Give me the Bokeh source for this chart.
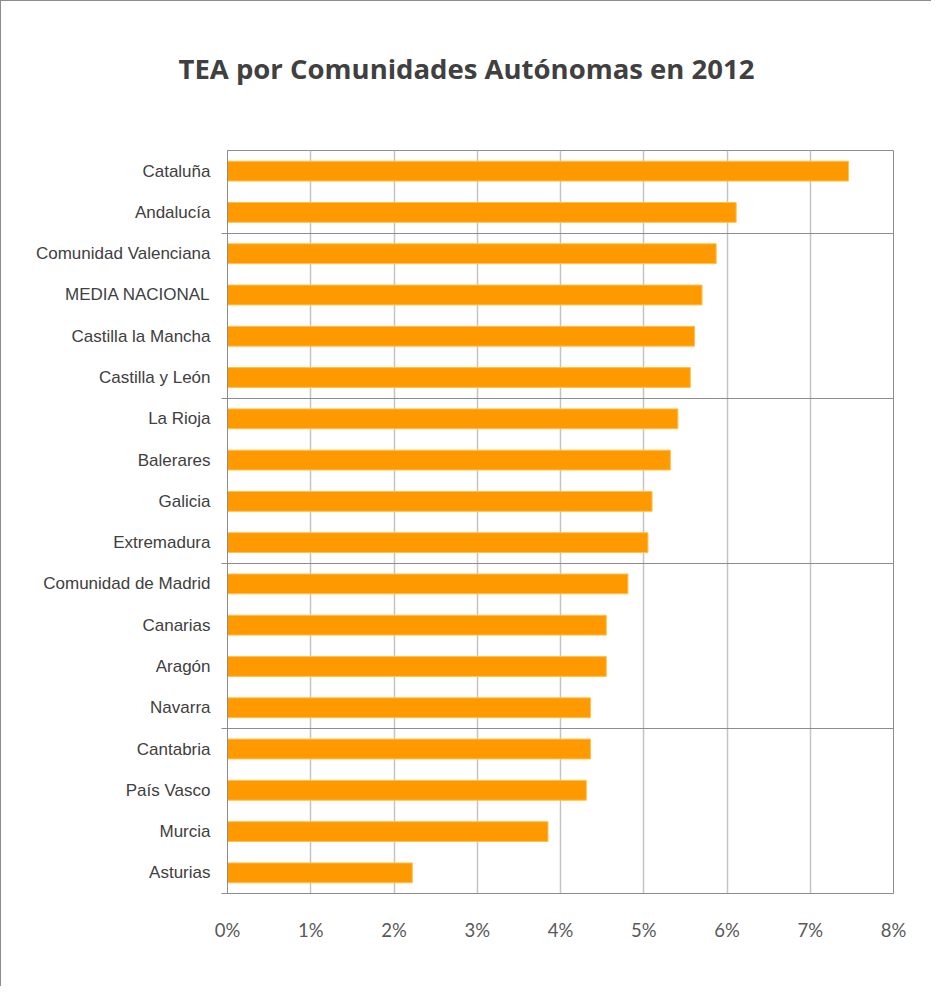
from bokeh.plotting import figure
from bokeh.models import FixedTicker, Range1d, ColumnDataSource, Title
from bokeh.embed import file_html
from bokeh.resources import INLINE

title_text = "TEA por Comunidades Autónomas en 2012"
regions = ["Cataluña", "Andalucía", "Comunidad Valenciana", "MEDIA NACIONAL",
           "Castilla la Mancha", "Castilla y León", "La Rioja", "Balerares",
           "Galicia", "Extremadura", "Comunidad de Madrid", "Canarias", "Aragón",
           "Navarra", "Cantabria", "País Vasco", "Murcia", "Asturias"]
values = [7.46, 6.11, 5.87, 5.70, 5.61, 5.56, 5.41, 5.32, 5.10, 5.05,
          4.81, 4.55, 4.55, 4.36, 4.36, 4.31, 3.85, 2.22]
x_ticks = [0, 1, 2, 3, 4, 5, 6, 7, 8]
x_tick_labels = ["0%", "1%", "2%", "3%", "4%", "5%", "6%", "7%", "8%"]
group_size = 4

n = len(regions)
ypos = [n - 1 - i for i in range(n)]
boundaries = [k * group_size - 0.5 for k in range(1, n // group_size + 1)]
tick_bounds = [-0.5] + boundaries

src = ColumnDataSource(dict(y=ypos, v=values, name=regions))

p = figure(width=931, height=986, x_range=Range1d(x_ticks[0], x_ticks[-1]),
           y_range=Range1d(-0.5, n - 0.5), output_backend="svg",
           toolbar_location=None, min_border_left=226, min_border_right=39,
           min_border_top=149, min_border_bottom=94,
           styles={"border-left": "1px solid #8c8c8c", "border-top": "1px solid #8c8c8c"})

p.hbar(y="y", right="v", left=0, height=0.48, source=src,
       fill_color="#FF9900", line_color="#FFC04D", line_width=1)

# spacer between the frame and the title
p.add_layout(Title(text=" ", text_font_size="1px", standoff=11), "above")

p.title.text = title_text
p.title.text_font = "Open Sans"
p.title.text_font_style = "bold"
p.title.text_font_size = "27.5px"
p.title.text_color = "#404040"
p.title.align = "left"
p.title.vertical_align = "top"
p.title.standoff = 96
p.title.offset = -49

p.outline_line_color = "#8c8c8c"
p.outline_line_width = 1

p.xgrid.ticker = FixedTicker(ticks=x_ticks)
p.xgrid.grid_line_color = "#c4c4c4"
p.xgrid.grid_line_width = 1.5
p.ygrid.ticker = FixedTicker(ticks=boundaries)
p.ygrid.grid_line_color = "#8c8c8c"
p.ygrid.grid_line_width = 1

xa = p.xaxis[0]
xa.ticker = FixedTicker(ticks=x_ticks)
xa.major_label_overrides = {t: l for t, l in zip(x_ticks, x_tick_labels)}
xa.major_tick_line_color = None
xa.minor_tick_line_color = None
xa.major_tick_out = 0
xa.major_label_standoff = 25
xa.axis_line_color = "#8c8c8c"
xa.major_label_text_font = "Lato"
xa.major_label_text_font_size = "18.5px"
xa.major_label_text_color = "#595959"

ya = p.yaxis[0]
ya.ticker = FixedTicker(ticks=ypos, minor_ticks=tick_bounds)
ya.major_label_overrides = {y: r for y, r in zip(ypos, regions)}
ya.major_tick_line_color = None
ya.major_tick_out = 0
ya.major_tick_in = 0
ya.minor_tick_line_color = "#8c8c8c"
ya.minor_tick_out = 6
ya.minor_tick_in = 0
ya.major_label_standoff = 11
ya.axis_line_color = "#8c8c8c"
ya.major_label_text_font = "Liberation Sans"
ya.major_label_text_font_size = "17px"
ya.major_label_text_color = "#404040"

open("out.html", "w").write(file_html(p, INLINE))
